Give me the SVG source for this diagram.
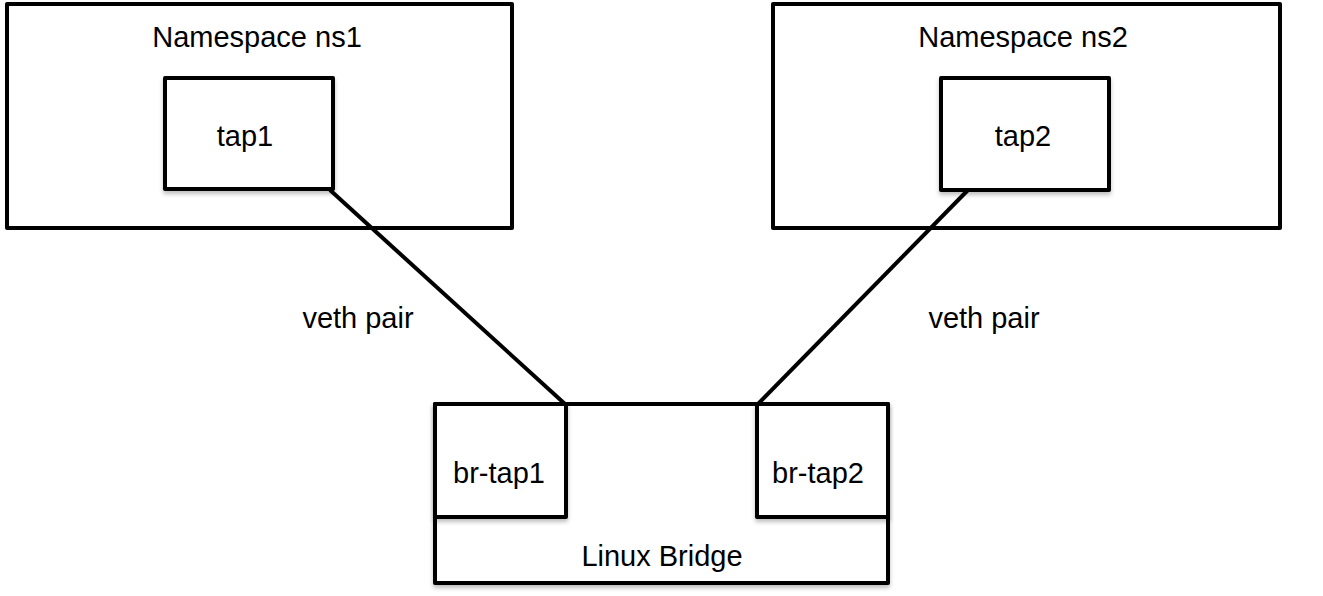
<svg xmlns="http://www.w3.org/2000/svg" width="1323" height="596" viewBox="0 0 1323 596">
<style>
.box{fill:#fff;stroke:#000;stroke-width:4;stroke-linejoin:round}
.inner{fill:#fff;stroke:#000;stroke-width:4;stroke-linejoin:round;filter:url(#sh)}
.t{font-family:"Liberation Sans","DejaVu Sans",sans-serif;font-size:29px;fill:#000;text-anchor:middle}
.c{stroke:#000;stroke-width:4;fill:none}
</style>
<defs>
<filter id="sh" x="-10%" y="-10%" width="120%" height="130%">
<feDropShadow dx="0" dy="3" stdDeviation="2" flood-color="#000" flood-opacity="0.25"/>
</filter>
</defs>
<rect width="1323" height="596" fill="#fff"/>
<g id="ns1">
<rect class="box" x="7" y="4" width="505" height="224"/>
<text class="t" x="257" y="47">Namespace ns1</text>
</g>
<g id="tap1">
<rect class="inner" x="165" y="78" width="168" height="111"/>
<text class="t" x="245" y="146">tap1</text>
</g>
<g id="ns2">
<rect class="box" x="773" y="4" width="507" height="224"/>
<text class="t" x="1023" y="47">Namespace ns2</text>
</g>
<g id="tap2">
<rect class="inner" x="941" y="78" width="168" height="112"/>
<text class="t" x="1023" y="146">tap2</text>
</g>
<g id="bridge">
<rect class="box" x="435" y="404" width="453" height="179" style="filter:url(#sh)"/>
<text class="t" x="662" y="566">Linux Bridge</text>
</g>
<g id="br-tap1">
<rect class="inner" x="435" y="404" width="131" height="113"/>
<text class="t" x="499" y="483">br-tap1</text>
</g>
<g id="br-tap2">
<rect class="inner" x="757" y="404" width="131" height="113"/>
<text class="t" x="818" y="483">br-tap2</text>
</g>
<g id="connectors">
<line class="c" x1="330" y1="190" x2="565" y2="404"/>
<line class="c" x1="968" y1="190" x2="758" y2="404"/>
<text class="t" x="358" y="328">veth pair</text>
<text class="t" x="984" y="328">veth pair</text>
</g>
</svg>
